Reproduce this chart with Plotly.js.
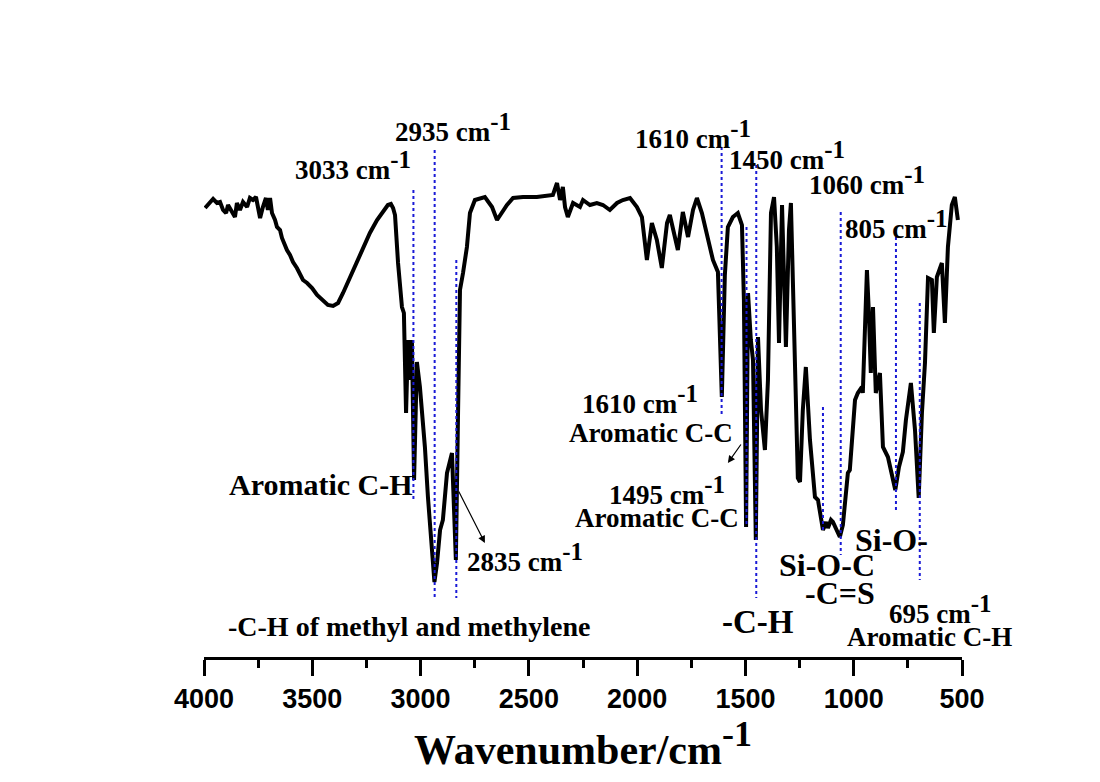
<!DOCTYPE html>
<html>
<head>
<meta charset="utf-8">
<script src="https://cdn.plot.ly/plotly-3.0.1.min.js"></script>
<style>html,body{margin:0;padding:0;background:#fff;}#chart{width:1100px;height:782px;}</style>
</head>
<body>
<div id="chart"></div>
<script>
// FTIR spectrum (wavenumber in cm-1, transmittance in arbitrary %)
const wavenumber = [3995,3972,3958,3940,3926,3912,3898,3889,3871,3857,3848,3834,3820,3801,3788,3774,3760,3751,3741,3728,3714,3705,3695,3686,3672,3663,3649,3640,3631,3617,3603,3589,3571,3557,3543,3524,3501,3478,3451,3428,3404,3381,3358,3326,3294,3266,3234,3201,3174,3151,3137,3127,3118,3104,3086,3077,3067,3058,3049,3040,3030,3017,3003,2980,2966,2947,2936,2924,2910,2897,2878,2855,2846,2837,2827,2818,2804,2786,2772,2749,2703,2670,2647,2624,2601,2573,2527,2463,2389,2370,2356,2343,2333,2320,2296,2264,2250,2218,2186,2158,2126,2093,2066,2033,2001,1978,1955,1932,1909,1886,1862,1849,1835,1812,1789,1765,1742,1724,1701,1678,1650,1627,1609,1595,1581,1558,1535,1516,1507,1497,1488,1475,1465,1452,1442,1428,1410,1396,1382,1368,1355,1345,1331,1313,1299,1290,1271,1258,1248,1235,1221,1202,1179,1165,1142,1128,1119,1105,1096,1077,1064,1050,1027,1018,1004,994,981,962,958,939,930,921,911,898,879,865,842,824,808,791,773,759,736,717,700,685,671,657,639,630,616,593,579,565,547,533,519];
const transmittance = [89.8,91.0,91.6,90.8,91.0,89.4,88.8,90.4,89.0,88.0,90.8,89.4,91.0,90.0,91.8,91.4,92.0,89.4,87.8,90.0,91.8,89.4,91.8,88.8,87.4,86.0,85.4,83.8,82.8,81.4,80.4,79.0,77.8,76.4,75.4,74.8,73.8,72.4,71.4,70.4,70.2,70.8,72.8,75.8,78.8,81.8,84.8,87.4,89.0,90.4,90.6,89.8,88.4,78.8,70.0,68.8,48.8,63.4,55.4,63.4,35.4,59.0,54.0,42.0,32.0,22.0,15.0,18.8,25.4,27.4,36.8,40.8,28.8,19.4,48.8,73.4,76.8,82.0,88.8,91.4,92.0,90.0,87.4,89.0,90.4,91.8,92.0,92.0,92.4,94.8,91.4,94.0,90.0,88.0,90.8,90.0,91.4,90.4,90.8,90.4,89.4,90.8,91.4,91.8,90.0,88.0,79.4,86.8,83.4,77.8,86.8,88.4,86.0,81.4,89.0,84.0,89.4,91.8,88.8,84.8,79.4,77.0,52.0,76.4,86.0,88.0,88.8,86.4,71.4,26.0,72.8,63.4,59.4,23.4,64.0,49.4,41.4,55.4,88.8,92.0,82.0,62.8,90.4,62.0,85.4,90.8,57.4,35.8,35.0,49.4,58.0,43.4,32.0,31.4,25.4,27.0,25.8,27.4,27.0,25.0,24.0,26.4,36.8,37.4,46.8,51.4,52.8,54.0,52.8,77.4,68.8,56.8,70.0,52.8,56.8,42.0,40.0,36.0,33.4,38.0,41.0,47.4,54.8,45.4,31.8,48.8,58.8,75.8,75.4,64.8,76.0,78.8,66.8,82.0,90.4,92.0,87.4];

// dotted guide lines at assigned bands
const bandWn     = [3033, 2935, 2835, 1610, 1495, 1450, 1142, 1060, 805, 695];
const bandTop    = [93.4, 101.4, 79.4, 102.0, 86.0, 98.4, 50.0, 89.0, 84.0, 70.8];
const bandBottom = [31.4, 11.8, 11.8, 48.4, 26.0, 11.8, 24.8, 20.4, 29.4, 15.4];

const tickValues = [4000, 3500, 3000, 2500, 2000, 1500, 1000, 500];

const serif = 'Liberation Serif, Times New Roman, serif';
const traces = [{
  x: wavenumber, y: transmittance, type: 'scatter', mode: 'lines',
  line: {color: '#000', width: 4}, showlegend: false, hoverinfo: 'skip'
}];
bandWn.forEach((w, i) => {
  traces.push({
    x: [w, w], y: [bandTop[i], bandBottom[i]], type: 'scatter', mode: 'lines',
    line: {color: '#1a1ad6', width: 2, dash: 'dot'}, showlegend: false, hoverinfo: 'skip'
  });
});

const SUP = '<sup><span style="font-size:25px">-1</span></sup>';
function lab(text, x, y, size) {
  return {text: text, x: x, y: y, xref: 'x', yref: 'y', showarrow: false,
    xanchor: 'left', yanchor: 'middle',
    font: {family: serif, size: size, color: '#000', weight: 'bold'}};
}
const annotations = [
  lab('3033 cm' + SUP, 3589, 98.4, 27),
  lab('2935 cm' + SUP, 3127, 106, 27),
  lab('Aromatic C-H', 3894, 34.5, 30),
  lab('2835 cm' + SUP, 2795, 20.0, 27),
  lab('-C-H of methyl and methylene', 3898, 6.2, 28),
  lab('1610 cm' + SUP, 2019, 104.6, 27),
  lab('1450 cm' + SUP, 1585, 100.4, 27),
  lab('1060 cm' + SUP, 1216, 95.4, 27),
  lab('805 cm' + SUP, 1050, 86.6, 27),
  lab('1610 cm' + SUP, 2264, 51.6, 27),
  lab('Aromatic C-C', 2324, 44.8, 27),
  lab('1495 cm' + SUP, 2139, 33.4, 27),
  lab('Aromatic C-C', 2296, 27.8, 27),
  lab('-C-H', 1618, 7.0, 33),
  lab('Si-O-C', 1355, 18.4, 32),
  lab('-C=S', 1234, 12.8, 32),
  lab('Si-O-', 1004, 23.4, 32),
  lab('695 cm' + SUP, 847, 9.6, 27),
  lab('Aromatic C-H', 1041, 4.0, 27),
  {x: 2703, y: 22.8, ax: 2827, ay: 33.4, xref: 'x', yref: 'y', axref: 'x', ayref: 'y',
   text: '', showarrow: true, arrowhead: 2, arrowsize: 1.2, arrowwidth: 1.2, arrowcolor: '#000'},
  {x: 1581, y: 38.8, ax: 1516, ay: 42.8, xref: 'x', yref: 'y', axref: 'x', ayref: 'y',
   text: '', showarrow: true, arrowhead: 2, arrowsize: 1.2, arrowwidth: 1.2, arrowcolor: '#000'}
];

const layout = {
  width: 1100, height: 782,
  margin: {l: 204, r: 138, t: 57, b: 125},
  paper_bgcolor: '#fff', plot_bgcolor: '#fff',
  showlegend: false,
  xaxis: {
    range: [4000, 500], tickvals: tickValues, ticktext: tickValues.map(String),
    showline: true, linecolor: '#000', linewidth: 3, mirror: false,
    ticks: 'outside', ticklen: 16, tickwidth: 3, tickcolor: '#000',
    minor: {ticks: 'outside', dtick: 250, tick0: 500, ticklen: 8, tickwidth: 3, tickcolor: '#000', showgrid: false},
    showgrid: false, zeroline: false,
    tickfont: {family: 'Liberation Sans, Arial, sans-serif', size: 27, color: '#000', weight: 'bold'},
    title: {text: 'Wavenumber/cm<sup><span style="font-size:36px">-1</span></sup>', font: {family: serif, size: 42, color: '#000', weight: 'bold'}, standoff: 18}
  },
  yaxis: {range: [0, 120], visible: false, showgrid: false, zeroline: false},
  annotations: annotations
};

Plotly.newPlot('chart', traces, layout, {displayModeBar: false, staticPlot: true});
</script>
</body>
</html>
